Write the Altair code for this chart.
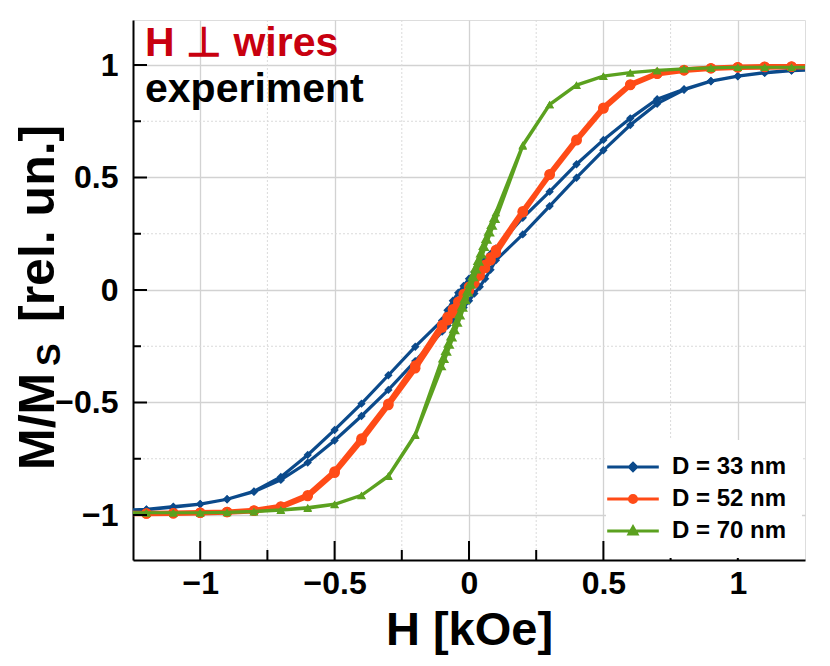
import altair as alt
import pandas as pd

SERIES = ["D = 33 nm", "D = 52 nm", "D = 70 nm"]
COLORS = ["#0b4a8b", "#ff4b17", "#5ba11f"]

# field grid (kOe), descending branch order
H_STD = [1.3, 1.2, 1.1, 1.0, 0.9, 0.8, 0.7, 0.6, 0.5, 0.4, 0.3, 0.2, 0.1,
         0.08, 0.06, 0.04, 0.02, 0.0, -0.02, -0.04, -0.06, -0.08, -0.1,
         -0.2, -0.3, -0.4, -0.5, -0.6, -0.7, -0.8, -0.9, -1.0, -1.1, -1.2, -1.3]
H_FINE = [1.3, 1.2, 1.1, 1.0, 0.9, 0.8, 0.7, 0.6, 0.5, 0.4, 0.3, 0.2, 0.1,
          0.09, 0.08, 0.07, 0.06, 0.05, 0.04, 0.03, 0.02, 0.01, 0.0,
          -0.01, -0.02, -0.03, -0.04, -0.05, -0.06, -0.07, -0.08, -0.09, -0.1,
          -0.2, -0.3, -0.4, -0.5, -0.6, -0.7, -0.8, -0.9, -1.0, -1.1, -1.2, -1.3]

# D = 33 nm
M33_down = [0.980, 0.976, 0.966, 0.951, 0.929, 0.892, 0.848, 0.763, 0.667, 0.559, 0.437, 0.321, 0.185,
            0.160, 0.135, 0.108, 0.080, 0.050, 0.018, -0.012, -0.048, -0.090, -0.135,
            -0.252, -0.379, -0.505, -0.622, -0.733, -0.831, -0.895, -0.930, -0.951, -0.963, -0.975, -0.980]
M33_up = [-0.980, -0.976, -0.965, -0.952, -0.930, -0.897, -0.844, -0.767, -0.669, -0.560, -0.444, -0.316, -0.185,
          -0.158, -0.132, -0.105, -0.078, -0.048, -0.016, 0.014, 0.050, 0.090, 0.132,
          0.247, 0.373, 0.499, 0.621, 0.733, 0.828, 0.890, 0.928, 0.950, 0.965, 0.975, 0.980]
# D = 52 nm
M52_down = [0.993, 0.992, 0.991, 0.990, 0.985, 0.976, 0.961, 0.911, 0.807, 0.665, 0.512, 0.350, 0.178,
            0.145, 0.112, 0.080, 0.048, 0.015, -0.018, -0.052, -0.085, -0.120, -0.155,
            -0.336, -0.505, -0.660, -0.807, -0.912, -0.962, -0.980, -0.987, -0.990, -0.992, -0.993, -0.993]
M52_up = [-0.993, -0.993, -0.992, -0.990, -0.987, -0.981, -0.964, -0.916, -0.812, -0.668, -0.511, -0.348, -0.167,
          -0.135, -0.102, -0.068, -0.035, -0.002, 0.030, 0.064, 0.098, 0.132, 0.165,
          0.345, 0.515, 0.668, 0.810, 0.913, 0.962, 0.978, 0.986, 0.990, 0.992, 0.993, 0.993]
# D = 70 nm
M70_down = [0.990, 0.990, 0.990, 0.990, 0.987, 0.983, 0.976, 0.966, 0.951, 0.911, 0.825, 0.645,
            0.345, 0.318, 0.288, 0.258, 0.226, 0.194, 0.161, 0.128, 0.094, 0.060, 0.026,
            -0.008, -0.042, -0.076, -0.110, -0.143, -0.176, -0.208, -0.240, -0.272, -0.305,
            -0.642, -0.826, -0.913, -0.953, -0.970, -0.979, -0.985, -0.989, -0.990, -0.990, -0.990, -0.990]
M70_up = [-0.990, -0.990, -0.990, -0.990, -0.988, -0.984, -0.977, -0.967, -0.952, -0.912, -0.828, -0.646,
          -0.340, -0.308, -0.276, -0.244, -0.212, -0.180, -0.147, -0.114, -0.080, -0.046, -0.012,
          0.022, 0.056, 0.090, 0.124, 0.157, 0.190, 0.222, 0.254, 0.285, 0.315,
          0.640, 0.824, 0.910, 0.950, 0.966, 0.976, 0.983, 0.987, 0.990, 0.990, 0.990, 0.990]

X_MAJOR = [-1, -0.5, 0, 0.5, 1]
X_MINOR = [-0.75, -0.25, 0.25, 0.75]
Y_MAJOR = [-1, -0.5, 0, 0.5, 1]
Y_MINOR = [-0.75, -0.25, 0.25, 0.75]

TITLE1 = "H \u22a5 wires"
TITLE2 = "experiment"
X_TITLE = "H [kOe]"
Y_TITLE_A = "M/M"
Y_TITLE_S = "S"
Y_TITLE_B = "[rel. un.]"

FONT = "'Liberation Sans', Arial, Helvetica, sans-serif"

W, H = 672, 540

series_data = [
    (SERIES[0], H_STD, M33_down, M33_up),
    (SERIES[1], H_STD, M52_down, M52_up),
    (SERIES[2], H_FINE, M70_down, M70_up),
]

xs = alt.Scale(domain=[-1.25, 1.25], nice=False, zero=False)
ys = alt.Scale(domain=[-1.2, 1.2], nice=False, zero=False)

xaxis = alt.Axis(values=X_MAJOR, title=X_TITLE, format="~g", tickSize=0, labelPadding=8,
                 labelFont=FONT, labelFontSize=32, labelFontWeight="bold", labelColor="black",
                 labelFlush=False, titleFont=FONT, titleFontSize=47, titleFontWeight="bold",
                 titleColor="black", titlePadding=8, domainColor="black", domainWidth=2,
                 grid=True, gridColor="#d2d2d2", gridWidth=1.3)
yaxis = alt.Axis(values=Y_MAJOR, title=None, format="~g", tickSize=0, labelPadding=15,
                 labelFont=FONT, labelFontSize=32, labelFontWeight="bold", labelColor="black",
                 labelFlush=False, domainColor="black", domainWidth=2,
                 grid=True, gridColor="#d2d2d2", gridWidth=1.3)


def X(field):
    return alt.X(field, type="quantitative", scale=xs, axis=xaxis)


def Y(field):
    return alt.Y(field, type="quantitative", scale=ys, axis=yaxis)


layers = []

# minor grid
layers.append(alt.Chart(pd.DataFrame({"v": X_MINOR})).mark_rule(
    color="#dadada", strokeWidth=1, strokeDash=[2, 2]).encode(x=X("v")))
layers.append(alt.Chart(pd.DataFrame({"v": Y_MINOR})).mark_rule(
    color="#dadada", strokeWidth=1, strokeDash=[2, 2]).encode(y=Y("v")))

MARKS = {SERIES[0]: ("diamond", 70, 3.2), SERIES[1]: ("circle", 110, 5.4), SERIES[2]: ("triangle-up", 75, 3.2)}
for (name, Hs, Md, Mu), col in zip(series_data, COLORS):
    rows = []
    k = 0
    for h, m in zip(Hs, Md):
        rows.append({"H": h, "M": m, "k": k}); k += 1
    for h, m in zip(Hs[::-1], Mu):
        rows.append({"H": h, "M": m, "k": k}); k += 1
    df = pd.DataFrame(rows)
    shape, size, lw = MARKS[name]
    base = alt.Chart(df)
    layers.append(base.mark_line(color=col, strokeWidth=lw, clip=True).encode(
        x=X("H"), y=Y("M"), order="k:Q"))
    layers.append(base.mark_point(color=col, filled=True, opacity=1, shape=shape, size=size, clip=True).encode(
        x=X("H"), y=Y("M")))

# inward ticks
layers.append(alt.Chart(pd.DataFrame({"v": Y_MAJOR})).mark_rule(color="black", strokeWidth=2).encode(
    y=Y("v"), x=alt.value(0), x2=alt.value(14)))
layers.append(alt.Chart(pd.DataFrame({"v": Y_MINOR})).mark_rule(color="black", strokeWidth=2).encode(
    y=Y("v"), x=alt.value(0), x2=alt.value(8)))
layers.append(alt.Chart(pd.DataFrame({"v": X_MAJOR})).mark_rule(color="black", strokeWidth=2).encode(
    x=X("v"), y=alt.value(H), y2=alt.value(H - 19)))
layers.append(alt.Chart(pd.DataFrame({"v": X_MINOR})).mark_rule(color="black", strokeWidth=2).encode(
    x=X("v"), y=alt.value(H), y2=alt.value(H - 10)))

# annotation text
layers.append(alt.Chart(pd.DataFrame({"t": [TITLE1]})).mark_text(
    align="left", baseline="alphabetic", font=FONT, fontSize=41, fontWeight="bold", color="#c8000f").encode(
    text="t:N", x=alt.value(12), y=alt.value(36)))
layers.append(alt.Chart(pd.DataFrame({"t": [TITLE2]})).mark_text(
    align="left", baseline="alphabetic", font=FONT, fontSize=41, fontWeight="bold", color="black").encode(
    text="t:N", x=alt.value(12), y=alt.value(82)))

# y title pieces (rotated)
layers.append(alt.Chart(pd.DataFrame({"t": [Y_TITLE_A]})).mark_text(
    align="left", baseline="alphabetic", angle=270, font=FONT, fontSize=50, fontWeight="bold", color="black").encode(
    text="t:N", x=alt.value(-79), y=alt.value(450)))
layers.append(alt.Chart(pd.DataFrame({"t": [Y_TITLE_S]})).mark_text(
    align="left", baseline="alphabetic", angle=270, font=FONT, fontSize=34, fontWeight="bold", color="black").encode(
    text="t:N", x=alt.value(-73), y=alt.value(346)))
layers.append(alt.Chart(pd.DataFrame({"t": [Y_TITLE_B]})).mark_text(
    align="left", baseline="alphabetic", angle=270, font=FONT, fontSize=50, fontWeight="bold", color="black").encode(
    text="t:N", x=alt.value(-79), y=alt.value(302)))

# legend layer: symbol paths extend beyond the nominal symbol box (line + marker)
PATHS = ["M-4.3,0H4.3M0,-0.6L0.6,0L0,0.6L-0.6,0Z",
         "M-4.3,0H4.3M0.6,0A0.6,0.6 0 1,1 -0.6,0A0.6,0.6 0 1,1 0.6,0Z",
         "M-4.3,0H4.3M0,-0.65L0.65,0.5L-0.65,0.5Z"]
leg = alt.Legend(title=None, orient="none", legendX=473, legendY=420, padding=15, fillColor="white",
                 symbolSize=144, symbolStrokeWidth=3, symbolOpacity=1,
                 labelFont=FONT, labelFontSize=24, labelFontWeight="bold", labelColor="black",
                 labelOffset=27, rowPadding=8)
layers.append(alt.Chart(pd.DataFrame({"D": SERIES})).mark_point(opacity=0, filled=True, strokeWidth=3).encode(
    fill=alt.Fill("D:N", scale=alt.Scale(domain=SERIES, range=COLORS), legend=leg),
    stroke=alt.Stroke("D:N", scale=alt.Scale(domain=SERIES, range=COLORS), legend=leg),
    shape=alt.Shape("D:N", scale=alt.Scale(domain=SERIES, range=PATHS), legend=leg)))

chart = alt.layer(*layers).properties(
    width=W, height=H, autosize=alt.AutoSizeParams(type="none"),
    padding={"left": 125, "top": 12, "right": 15, "bottom": 96},
).configure_view(stroke="black", strokeWidth=2).configure(background="white")

chart.save("out.html", embed_options={"renderer": "svg", "actions": False})
